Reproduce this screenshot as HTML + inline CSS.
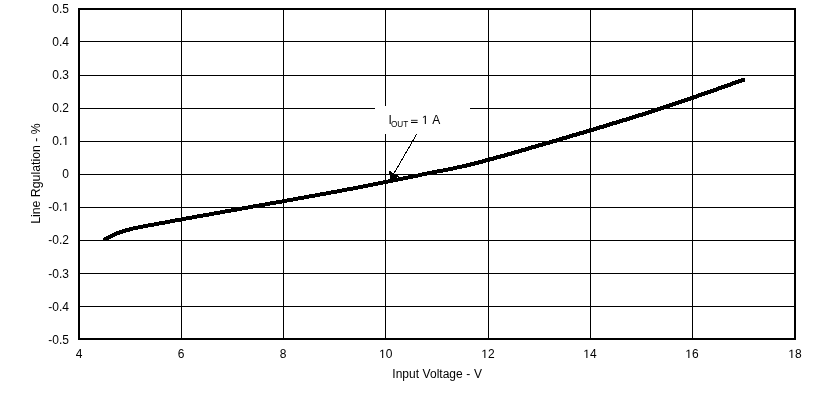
<!DOCTYPE html>
<html><head><meta charset="utf-8"><style>
html,body{margin:0;padding:0;background:#fff;}
body{width:827px;height:401px;overflow:hidden;position:relative;}
svg{position:absolute;left:0;top:0;will-change:transform;}
text{font-family:"Liberation Sans",sans-serif;font-size:12px;fill:#000;}
.h1{fill:transparent;}
</style></head><body>
<svg width="827" height="401" viewBox="0 0 827 401">
<defs><clipPath id="cc"><path d="M103,0H745V401H105V241H103Z"/></clipPath></defs>
<g fill="#000" shape-rendering="crispEdges">
<rect x="80" y="41" width="714" height="1"/>
<rect x="80" y="75" width="714" height="1"/>
<rect x="80" y="108" width="714" height="1"/>
<rect x="80" y="141" width="714" height="1"/>
<rect x="80" y="174" width="714" height="1"/>
<rect x="80" y="207" width="714" height="1"/>
<rect x="80" y="240" width="714" height="1"/>
<rect x="80" y="273" width="714" height="1"/>
<rect x="80" y="306" width="714" height="1"/>
<rect x="181" y="10" width="1" height="328"/>
<rect x="283" y="10" width="1" height="328"/>
<rect x="385" y="10" width="1" height="328"/>
<rect x="488" y="10" width="1" height="328"/>
<rect x="590" y="10" width="1" height="328"/>
<rect x="692" y="10" width="1" height="328"/>
<rect x="78" y="8" width="718" height="2"/>
<rect x="78" y="338" width="718" height="2"/>
<rect x="78" y="8" width="2" height="332"/>
<rect x="794" y="8" width="2" height="332"/>
</g>
<rect x="375" y="106" width="95" height="28" fill="#fff" shape-rendering="crispEdges"/>
<path clip-path="url(#cc)" d="M103.20,240.29 L104.89,239.44 L106.89,238.44 L108.89,237.44 L110.89,236.44 L112.89,235.44 L114.81,234.45 L116.74,233.46 L119.68,232.46 L122.59,231.47 L125.55,230.47 L129.49,229.47 L133.43,228.46 L138.41,227.46 L143.37,226.46 L148.37,225.46 L154.36,224.46 L159.36,223.46 L165.37,222.46 L170.36,221.46 L175.37,220.46 L181.36,219.46 L186.36,218.46 L192.36,217.46 L197.34,216.46 L203.36,215.46 L209.34,214.46 L214.36,213.46 L220.36,212.46 L225.34,211.46 L231.36,210.46 L237.34,209.46 L242.36,208.46 L248.36,207.46 L253.34,206.46 L259.36,205.46 L265.34,204.46 L270.34,203.46 L276.36,202.46 L282.34,201.46 L287.36,200.46 L293.36,199.46 L298.36,198.46 L304.36,197.46 L309.36,196.46 L315.36,195.46 L320.36,194.46 L326.36,193.46 L331.36,192.46 L337.37,191.46 L342.36,190.46 L347.37,189.46 L353.37,188.46 L358.37,187.46 L363.39,186.46 L368.39,185.46 L373.39,184.46 L378.39,183.46 L383.39,182.46 L388.39,181.46 L393.39,180.46 L398.39,179.46 L403.39,178.46 L408.39,177.46 L413.41,176.46 L418.41,175.46 L422.41,174.46 L427.41,173.46 L432.37,172.46 L437.37,171.46 L443.37,170.46 L448.39,169.46 L453.41,168.46 L457.43,167.46 L462.46,166.46 L466.46,165.46 L470.49,164.47 L474.49,163.47 L478.52,162.47 L482.52,161.47 L485.52,160.47 L489.55,159.47 L493.52,158.47 L496.52,157.47 L500.55,156.47 L504.52,155.47 L507.55,154.47 L511.55,153.47 L514.55,152.47 L518.55,151.47 L521.55,150.47 L525.59,149.47 L528.55,148.47 L531.59,147.47 L535.55,146.47 L538.55,145.47 L542.55,144.47 L545.55,143.47 L549.55,142.47 L552.55,141.47 L556.59,140.47 L559.55,139.47 L562.59,138.47 L566.59,137.47 L569.55,136.47 L572.59,135.47 L576.55,134.47 L579.55,133.47 L583.59,132.47 L586.55,131.47 L589.59,130.47 L593.59,129.47 L596.55,128.47 L599.59,127.47 L603.59,126.47 L606.59,125.47 L609.59,124.47 L612.59,123.47 L616.59,122.47 L619.55,121.47 L622.59,120.47 L626.59,119.47 L629.59,118.47 L632.63,117.46 L635.59,116.47 L638.59,115.47 L642.59,114.47 L645.59,113.47 L648.63,112.46 L651.63,111.46 L654.63,110.46 L657.63,109.46 L660.63,108.46 L663.63,107.46 L666.63,106.46 L669.63,105.46 L672.63,104.46 L675.63,103.46 L678.63,102.46 L681.63,101.46 L684.63,100.46 L687.63,99.46 L690.63,98.46 L693.68,97.46 L696.68,96.46 L698.68,95.46 L701.68,94.46 L704.63,93.46 L707.63,92.46 L710.63,91.46 L713.68,90.46 L716.68,89.46 L718.68,88.46 L721.68,87.46 L724.63,86.46 L727.68,85.46 L730.68,84.46 L732.68,83.46 L735.68,82.46 L738.63,81.46 L741.63,80.46 L745.00,79.34" fill="none" stroke="#000" stroke-width="4" stroke-linejoin="round" shape-rendering="crispEdges"/>
<line x1="416.7" y1="134.2" x2="393.9" y2="173.5" stroke="#000" stroke-width="1" shape-rendering="crispEdges"/>
<polygon points="388.7,170.5 399.2,176.2 391,182" fill="#000" shape-rendering="crispEdges"/>
<text x="69" y="13.00" text-anchor="end">0.5</text>
<text x="69" y="46.00" text-anchor="end">0.4</text>
<text x="69" y="79.00" text-anchor="end">0.3</text>
<text x="69" y="112.00" text-anchor="end">0.2</text>
<text x="69" y="145.00" text-anchor="end">0.<tspan class="h1">1</tspan></text>
<text x="69" y="178.00" text-anchor="end">0</text>
<text x="69" y="211.00" text-anchor="end">-0.<tspan class="h1">1</tspan></text>
<text x="69" y="244.00" text-anchor="end">-0.2</text>
<text x="69" y="278.00" text-anchor="end">-0.3</text>
<text x="69" y="311.00" text-anchor="end">-0.4</text>
<text x="69" y="344.00" text-anchor="end">-0.5</text>
<text x="79" y="358" text-anchor="middle">4</text>
<text x="181" y="358" text-anchor="middle">6</text>
<text x="283" y="358" text-anchor="middle">8</text>
<text x="385.8" y="358" text-anchor="middle"><tspan class="h1">1</tspan>0</text>
<text x="488" y="358" text-anchor="middle"><tspan class="h1">1</tspan>2</text>
<text x="590" y="358" text-anchor="middle"><tspan class="h1">1</tspan>4</text>
<text x="692" y="358" text-anchor="middle"><tspan class="h1">1</tspan>6</text>
<text x="795" y="358" text-anchor="middle"><tspan class="h1">1</tspan>8</text>
<text x="388.5" y="124">I</text>
<text x="391" y="127" style="font-size:8.2px">OUT</text>
<rect x="411" y="119.8" width="6.6" height="1.3" fill="#000" opacity="0.7"/><rect x="411" y="122" width="6.6" height="1" fill="#000"/>
<text x="421.8" y="124"><tspan class="h1">1</tspan></text>
<text x="432.2" y="124">A</text>
<text x="392.3" y="378" style="word-spacing:0.3px">Input Voltage - V</text>
<text transform="translate(40,223.8) rotate(-90)" style="font-size:12.3px">Line Rgulation - %</text>
<g fill="#000">
<path transform="translate(62.312,145.000) scale(0.005859,-0.005859)" d="M515,0L515,1237L197,1010L197,1180L530,1409L696,1409L696,0Z"/>
<path transform="translate(62.312,211.000) scale(0.005859,-0.005859)" d="M515,0L515,1237L197,1010L197,1180L530,1409L696,1409L696,0Z"/>
<path transform="translate(379.112,358.000) scale(0.005859,-0.005859)" d="M515,0L515,1237L197,1010L197,1180L530,1409L696,1409L696,0Z"/>
<path transform="translate(481.312,358.000) scale(0.005859,-0.005859)" d="M515,0L515,1237L197,1010L197,1180L530,1409L696,1409L696,0Z"/>
<path transform="translate(583.312,358.000) scale(0.005859,-0.005859)" d="M515,0L515,1237L197,1010L197,1180L530,1409L696,1409L696,0Z"/>
<path transform="translate(685.312,358.000) scale(0.005859,-0.005859)" d="M515,0L515,1237L197,1010L197,1180L530,1409L696,1409L696,0Z"/>
<path transform="translate(788.312,358.000) scale(0.005859,-0.005859)" d="M515,0L515,1237L197,1010L197,1180L530,1409L696,1409L696,0Z"/>
<path transform="translate(421.800,124.000) scale(0.005859,-0.005859)" d="M515,0L515,1237L197,1010L197,1180L530,1409L696,1409L696,0Z"/>
</g>
</svg>
</body></html>
